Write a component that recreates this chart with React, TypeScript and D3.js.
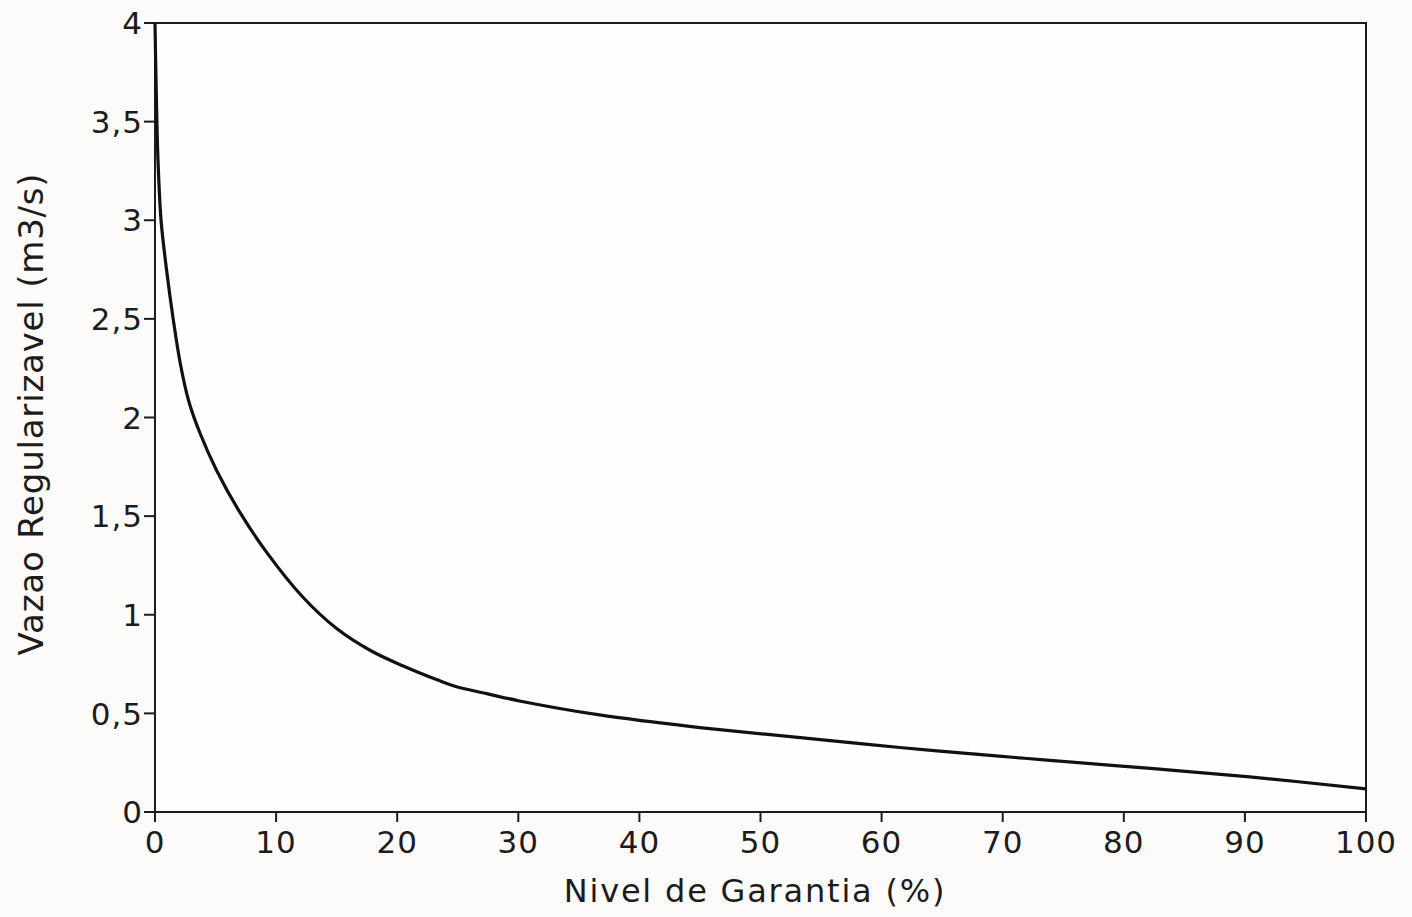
import React from "react";
import * as d3 from "d3";

const garantia = [0, 0.12, 0.25, 0.5, 0.95, 1.5, 2.1, 2.8, 3.72, 5.1, 7.0, 9.3, 12.2, 15.0, 17.75, 20.5, 23.3, 24.9, 27.4, 30.1, 36.7, 40.9, 45.0, 53.3, 61.5, 69.7, 73.9, 82.2, 90.4, 100];
const vazao = [4.0, 3.6, 3.3, 3.0, 2.75, 2.5, 2.27, 2.08, 1.92, 1.73, 1.52, 1.31, 1.09, 0.93, 0.82, 0.74, 0.67, 0.635, 0.6, 0.563, 0.492, 0.458, 0.428, 0.377, 0.327, 0.283, 0.262, 0.221, 0.178, 0.117];
const xTicks = [0, 10, 20, 30, 40, 50, 60, 70, 80, 90, 100];
const yTicks = [0, 0.5, 1, 1.5, 2, 2.5, 3, 3.5, 4];
const xTitle = "Nivel de Garantia (%)";
const yTitle = "Vazao Regularizavel (m3/s)";

export default function App() {
  const W = 1412, H = 917;
  const left = 155, right = 1366, top = 23, bottom = 812;
  const x = d3.scaleLinear().domain([0, 100]).range([left, right]);
  const y = d3.scaleLinear().domain([0, 4]).range([bottom, top]);
  const pts = garantia.map((g, i) => [g, vazao[i]] as [number, number]);
  const line = d3.line<[number, number]>().x(d => x(d[0])).y(d => y(d[1])).curve(d3.curveCatmullRom.alpha(0.5));
  const font = "'DejaVu Sans', Verdana, sans-serif";
  const fmt = (v: number) => String(v).replace(".", ",");
  const ink = "#1c1c1c";
  return (
    <svg width={W} height={H} style={{ position: "absolute", left: 0, top: 0 }} fontFamily={font}>
      <rect x={0} y={0} width={W} height={H} fill="#fcfbf9" />
      <rect x={left} y={top} width={right - left} height={bottom - top} fill="#fefefd" stroke={ink} strokeWidth={2} />
      {yTicks.map(t => (
        <g key={"y" + t}>
          <line x1={left - 11} x2={left} y1={y(t)} y2={y(t)} stroke={ink} strokeWidth={2} />
          <text x={left - 12} y={y(t)} dy="0.36em" textAnchor="end" fontSize={31} letterSpacing={1} fill={ink}>{fmt(t)}</text>
        </g>
      ))}
      {xTicks.map(t => (
        <g key={"x" + t}>
          <line x1={x(t)} x2={x(t)} y1={bottom} y2={bottom + 10} stroke={ink} strokeWidth={2} />
          <text x={x(t)} y={bottom + 41} textAnchor="middle" fontSize={31} letterSpacing={1} fill={ink}>{t}</text>
        </g>
      ))}
      <path d={line(pts) || ""} fill="none" stroke="#111" strokeWidth={3.2} />
      <text x={755} y={902} textAnchor="middle" fontSize={32} letterSpacing={1.8} fill={ink}>{xTitle}</text>
      <text transform={`translate(43, 414) rotate(-90)`} textAnchor="middle" fontSize={34} letterSpacing={0.8} fill={ink}>{yTitle}</text>
    </svg>
  );
}
